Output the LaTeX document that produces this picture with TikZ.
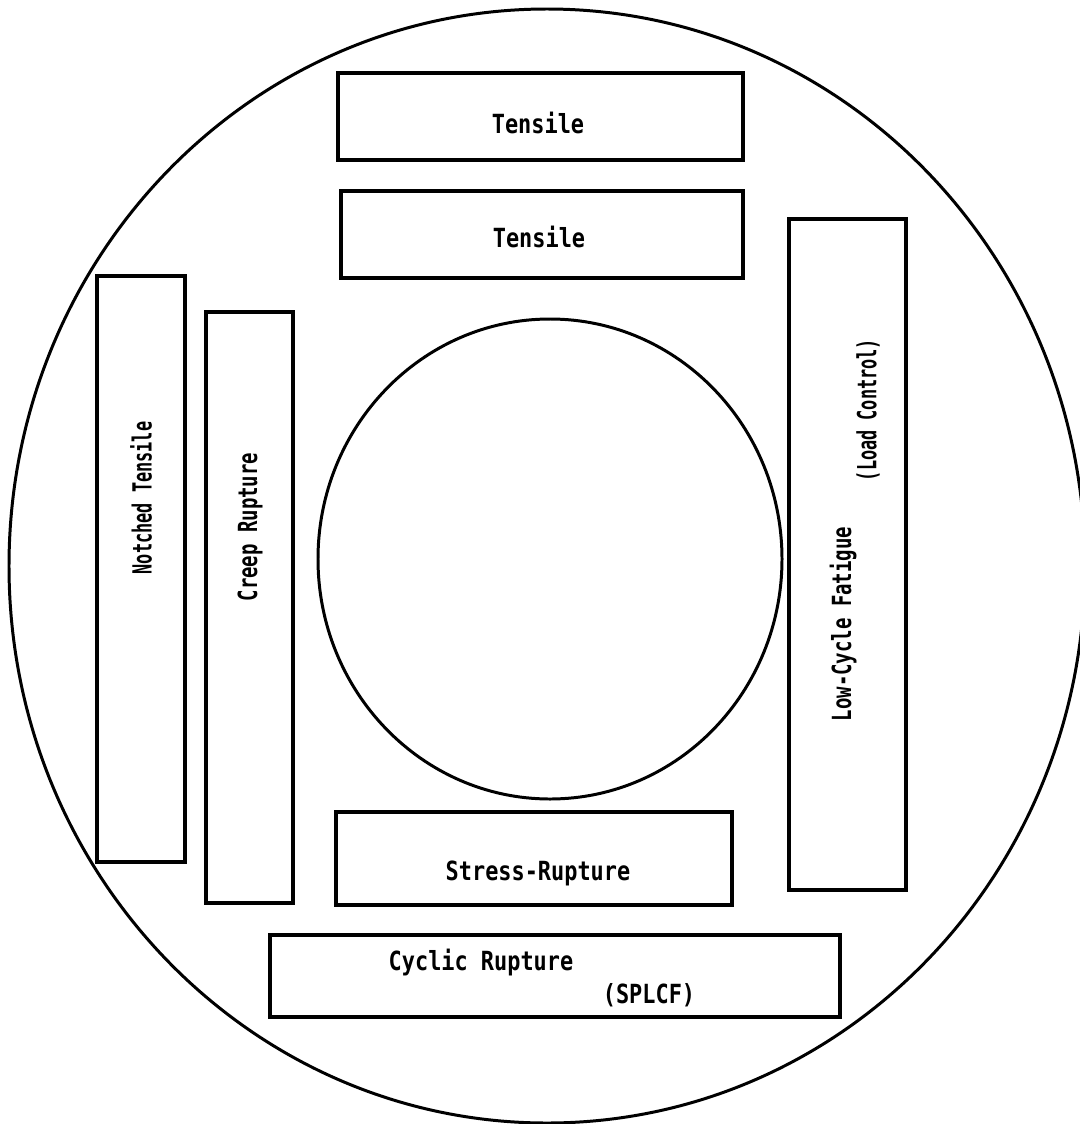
\documentclass[tikz,border=0pt]{standalone}
\usepackage{fontspec}
\newfontfamily\typefont[FakeStretch=0.83]{DejaVu Sans Mono}
\newfontfamily\sidefont[FakeStretch=0.72]{DejaVu Sans Mono}
\newfontfamily\tightfont[FakeStretch=0.64]{DejaVu Sans Mono}

\begin{document}
\begin{tikzpicture}[x=0.01cm, y=-0.01cm]
		\tikzset{
		    tbox/.style= {draw=black, line width=1.1pt},
		    tring/.style= {draw=black, line width=0.85pt},
		    tlabel/.style= {font=\typefont\bfseries\fontsize{7.5}{9}\selectfont, inner sep=0pt},
		    slabel/.style= {font=\sidefont\bfseries\fontsize{7.5}{9}\selectfont, inner sep=0pt, rotate=90},
		    nlabel/.style= {slabel, font=\tightfont\bfseries\fontsize{7.5}{9}\selectfont},
		}
		\useasboundingbox (0,0) rectangle (1080,1124);
		
		% specimen blank and centre bore
		\draw[tring] (547,566) ellipse (538 and 557);
		\draw[tring] (550,559) ellipse (232 and 240);
		
		\draw[tbox] (338,73) rectangle (743,160);
		\node[tlabel] (tens1) at (538,123) {Tensile};
		
		\draw[tbox] (341,191) rectangle (743,278);
		\node[tlabel] (tens2) at (539,237) {Tensile};
		
		\draw[tbox] (97,276) rectangle (185,862);
		\node[nlabel] (notch) at (141,498) {Notched Tensile};
		
		\draw[tbox] (206,312) rectangle (293,903);
		\node[slabel] (creep) at (250,527) {Creep Rupture};
		
		\draw[tbox] (789,219) rectangle (906,890);
		\node[slabel] (lcf) at (843,624) {Low-Cycle Fatigue};
		\node[nlabel] (lcfmode) at (868,410) {(Load Control)};
		
		\draw[tbox] (336,812) rectangle (732,905);
		\node[tlabel] (srupt) at (538,873) {Stress-Rupture};
		
		\draw[tbox] (270,935) rectangle (840,1017);
		\node[tlabel] (crupt) at (481,963) {Cyclic Rupture};
		\node[tlabel] (splcf) at (649,995) {(SPLCF)};
	\end{tikzpicture}
\end{document}
